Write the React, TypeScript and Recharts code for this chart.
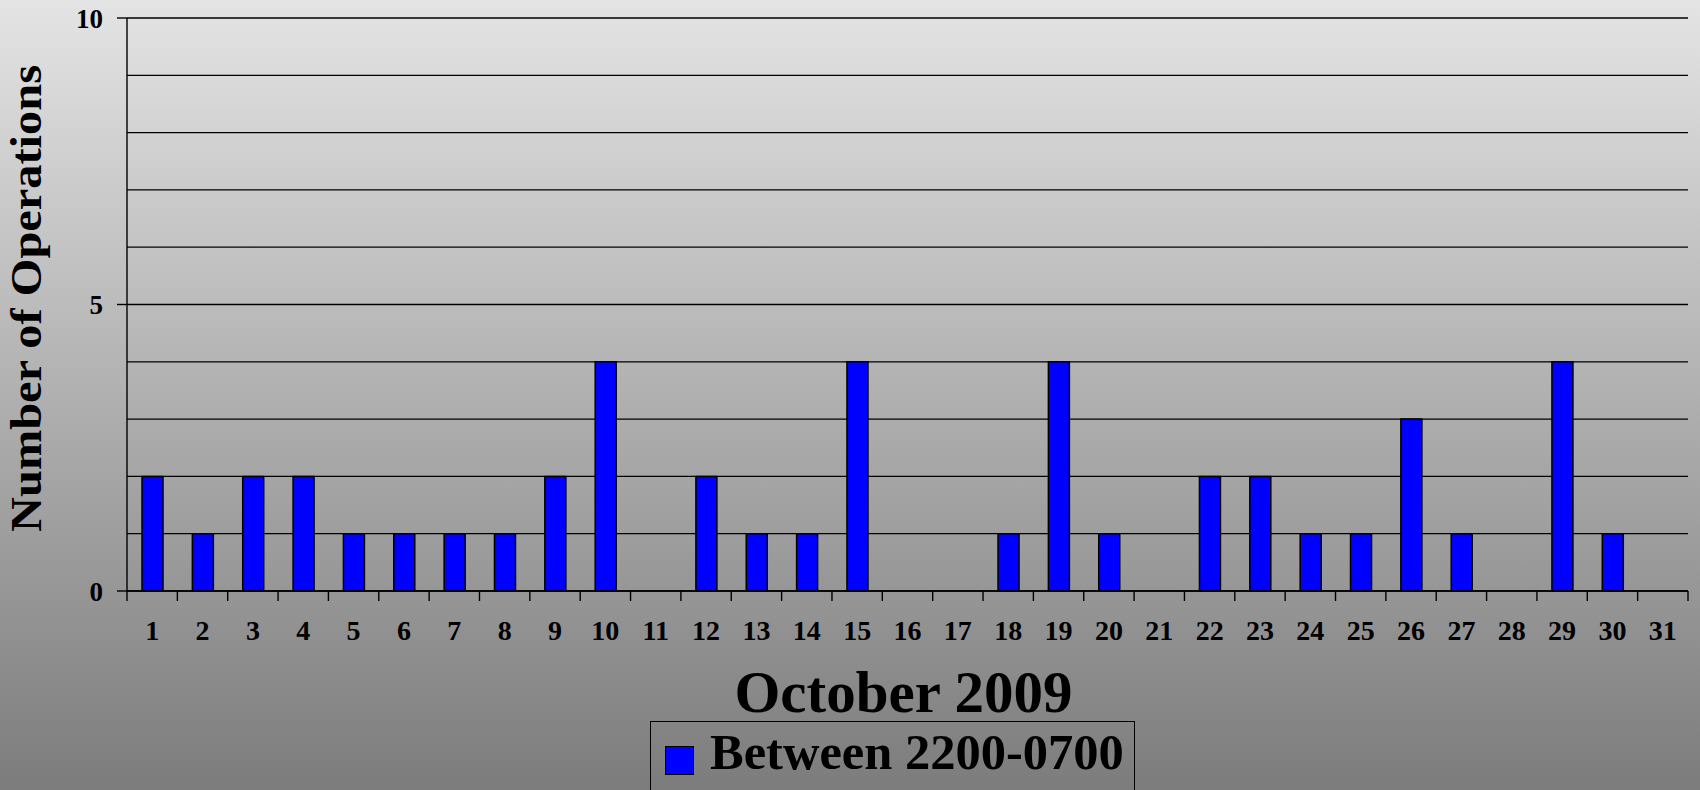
import React from "react";
import { Bar, BarChart, CartesianGrid, Label, Legend, XAxis, YAxis } from "recharts";

const days = [
  "1", "2", "3", "4", "5", "6", "7", "8", "9", "10", "11", "12", "13", "14", "15", "16",
  "17", "18", "19", "20", "21", "22", "23", "24", "25", "26", "27", "28", "29", "30", "31",
];
const operations = [2, 1, 2, 2, 1, 1, 1, 1, 2, 4, 0, 2, 1, 1, 4, 0, 0, 1, 4, 1, 0, 2, 2, 1, 1, 3, 1, 0, 4, 1, 0];
const yTicks = [0, 5, 10];
const gridValues = [0, 1, 2, 3, 4, 5, 6, 7, 8, 9, 10];
const seriesName = "Between 2200-0700";
const xTitle = "October 2009";
const yTitle = "Number of Operations";

const W = 1700;
const H = 790;
const LEFT = 127;
const RIGHT = 12;
const TOP = 18;
const BASE = 591; // y of the zero line
const LEGEND_H = 90; // recharts reserves this below the axis
const BAND = (W - LEFT - RIGHT) / days.length;
const FONT = '"Liberation Serif", "Times New Roman", serif';

const data = days.map((d, i) => ({ day: d, ops: operations[i] }));

function DayTick(props) {
  const { x, y, payload, index } = props;
  const left = x - BAND / 2;
  const right = x + BAND / 2;
  return (
    <g>
      <line x1={left} y1={y} x2={left} y2={y + 10} stroke="#000" strokeWidth={1.4} />
      {index === days.length - 1 ? (
        <line x1={right} y1={y} x2={right} y2={y + 10} stroke="#000" strokeWidth={1.4} />
      ) : null}
      <text x={x} y={y + 49} textAnchor="middle" fontFamily={FONT} fontWeight="bold" fontSize={28} fill="#000">
        {payload.value}
      </text>
    </g>
  );
}

function XTitle(props) {
  const { viewBox } = props;
  return (
    <text
      x={viewBox.x + viewBox.width / 2 - 4}
      y={712}
      textAnchor="middle"
      fontFamily={FONT}
      fontWeight="bold"
      fontSize={59}
      fill="#000"
    >
      {xTitle}
    </text>
  );
}

function YTitle(props) {
  const { viewBox } = props;
  const cy = viewBox.y + viewBox.height / 2 - 6;
  return (
    <text
      x={41}
      y={cy}
      transform={`rotate(-90, 41, ${cy})`}
      textAnchor="middle"
      fontFamily={FONT}
      fontWeight="bold"
      fontSize={44}
      textLength={467}
      lengthAdjust="spacingAndGlyphs"
      fill="#000"
    >
      {yTitle}
    </text>
  );
}

function LegendBox() {
  return (
    <div
      style={{
        width: 485,
        height: LEGEND_H,
        border: "1.5px solid #000",
        position: "relative",
        boxSizing: "border-box",
      }}
    >
      <div
        style={{
          position: "absolute",
          left: 14,
          top: 24,
          width: 29,
          height: 29,
          background: "#0000ff",
          border: "1.5px solid #000",
          boxSizing: "border-box",
        }}
      />
      <div
        style={{
          position: "absolute",
          left: 59,
          top: 2,
          fontFamily: FONT,
          fontWeight: "bold",
          fontSize: 50.5,
          lineHeight: "56px",
          whiteSpace: "nowrap",
          color: "#000",
        }}
      >
        {seriesName}
      </div>
    </div>
  );
}

export default function App() {
  return (
    <div
      style={{
        position: "absolute",
        left: 0,
        top: 0,
        width: W,
        height: H,
        overflow: "hidden",
        background: "linear-gradient(to bottom, #e4e4e4 0%, #7c7c7c 100%)",
      }}
    >
      <BarChart width={W} height={H} data={data} margin={{ top: TOP, right: RIGHT, left: 0, bottom: 0 }}>
        <CartesianGrid
          vertical={false}
          horizontalValues={gridValues}
          stroke="#000"
          strokeWidth={1.3}
          strokeOpacity={1}
        />
        <XAxis
          dataKey="day"
          height={H - BASE - LEGEND_H}
          tickSize={0}
          tickMargin={0}
          tickLine={false}
          axisLine={{ stroke: "#000", strokeWidth: 1.4 }}
          tick={<DayTick />}
          interval={0}
        >
          <Label content={<XTitle />} />
        </XAxis>
        <YAxis
          width={LEFT}
          domain={[0, 10]}
          ticks={yTicks}
          interval={0}
          tickSize={10}
          tickMargin={14}
          tickLine={{ stroke: "#000", strokeWidth: 1.4 }}
          axisLine={{ stroke: "#000", strokeWidth: 1.4 }}
          tick={{ fill: "#000", fontFamily: FONT, fontWeight: "bold", fontSize: 27 }}
        >
          <Label content={<YTitle />} />
        </YAxis>
        <Legend
          layout="vertical"
          align="center"
          verticalAlign="bottom"
          content={<LegendBox />}
          wrapperStyle={{ position: "absolute", left: 650, top: 721, width: 485, bottom: "auto" }}
        />
        <Bar
          dataKey="ops"
          name={seriesName}
          fill="#0000ff"
          stroke="#000"
          strokeWidth={1.5}
          barSize={21}
          isAnimationActive={false}
        />
      </BarChart>
    </div>
  );
}
